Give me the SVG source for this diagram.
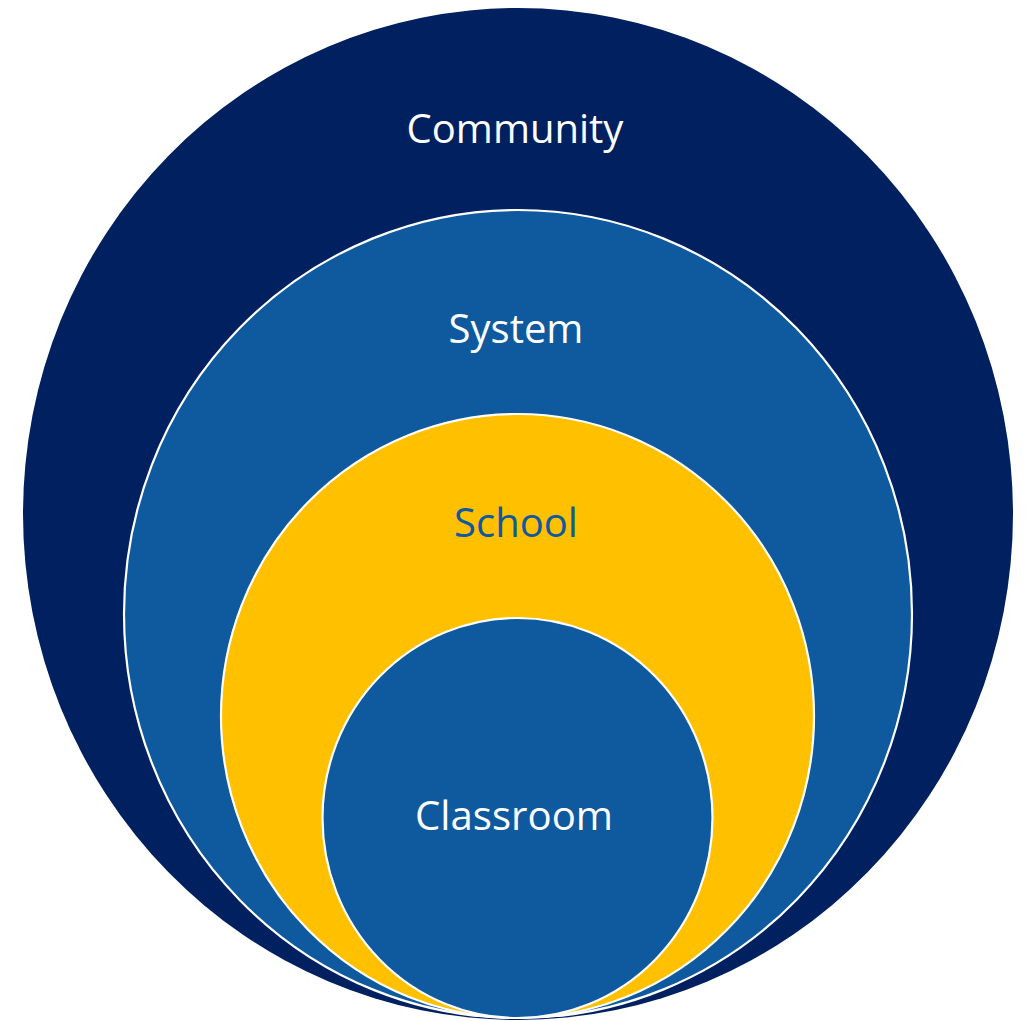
<svg xmlns="http://www.w3.org/2000/svg" width="1026" height="1021" viewBox="0 0 1026 1021">
<style>
.ring{stroke:#ffffff;stroke-width:2.2}
.lbl{font-family:"Open Sans","Noto Sans","Liberation Sans",sans-serif;font-size:40px;text-anchor:middle}
.w{fill:#ffffff}
.b{fill:#0F5A9E}
</style>
<rect width="1026" height="1021" fill="#ffffff"/>
<g id="community">
<ellipse cx="518" cy="514" rx="495" ry="506" fill="#00205F"/>
<text class="lbl w" x="515" y="143">Community</text>
</g>
<g id="system">
<ellipse class="ring" cx="518" cy="614" rx="394" ry="404" fill="#0F5A9E"/>
<text class="lbl w" x="516" y="343">System</text>
</g>
<g id="school">
<ellipse class="ring" cx="517.5" cy="716" rx="296.5" ry="302" fill="#FFC000"/>
<text class="lbl b" x="516" y="537">School</text>
</g>
<g id="classroom">
<ellipse class="ring" cx="517.5" cy="818" rx="195" ry="200" fill="#0F5A9E"/>
<text class="lbl w" x="514" y="830" textLength="198" lengthAdjust="spacingAndGlyphs">Classroom</text>
</g>
<g id="connectors"/>
</svg>
